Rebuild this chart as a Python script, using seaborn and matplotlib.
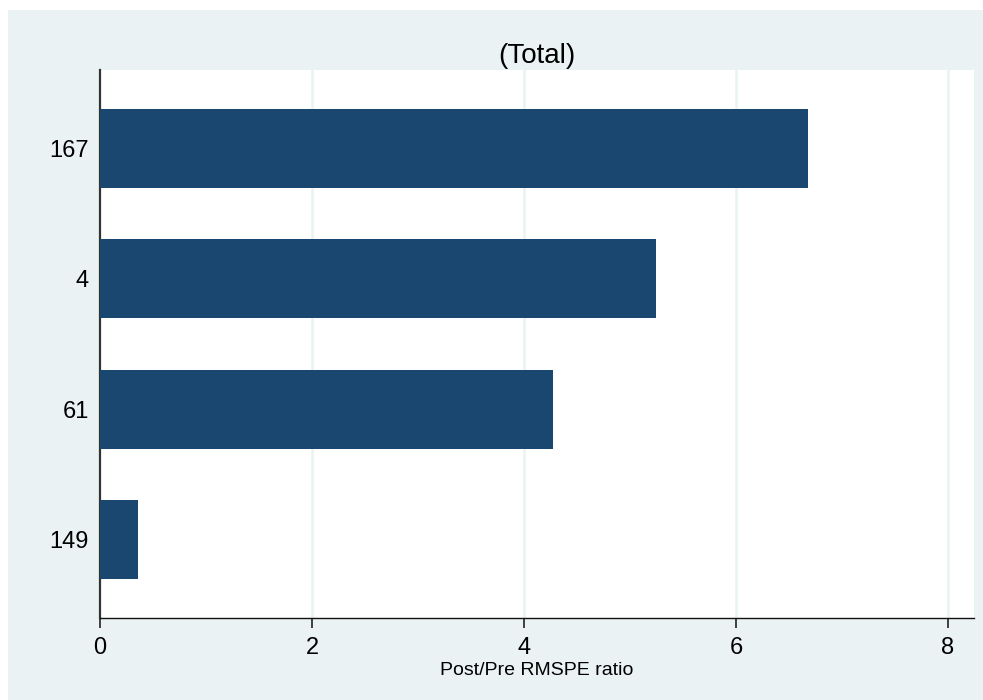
import matplotlib
matplotlib.use("Agg")
import matplotlib.pyplot as plt
import seaborn as sns
import pandas as pd

categories = ["167", "4", "61", "149"]
values = [6.68, 5.245, 4.27, 0.355]
xticks = [0, 2, 4, 6, 8]

df = pd.DataFrame({"unit": categories, "ratio": values})

sns.set_theme(style="ticks", rc={"text.color": "black", "xtick.color": "black",
                                 "ytick.color": "black", "axes.labelcolor": "black"})
plt.rcParams["font.family"] = ["Liberation Sans", "DejaVu Sans"]

fig = plt.figure(figsize=(9.83, 7.0), dpi=100, facecolor="white")
# light background panel
fig.patches.append(plt.Rectangle((8 / 983, 0), 1 - 8 / 983, 1 - 10 / 700,
                                 transform=fig.transFigure, facecolor="#EAF2F3",
                                 edgecolor="none", zorder=-10))
ax = fig.add_axes([100 / 983, 1 - 618 / 700, 874 / 983, 548 / 700])
ax.set_facecolor("white")

sns.barplot(data=df, x="ratio", y="unit", order=categories, orient="h",
            color="#1A476F", saturation=1, width=0.605, linewidth=0,
            ax=ax, zorder=3)

ax.set_xlim(0, 874 / 106)
ax.set_ylim(3.6, -0.6)
ax.set_xticks(xticks)
ax.set_xticklabels([str(t) for t in xticks], fontsize=17)
ax.tick_params(axis="x", which="major", bottom=True, direction="out",
               length=7, width=1.2, color="#222222", pad=7)
ax.tick_params(axis="y", left=False, length=0, pad=8, labelsize=17)
for t in xticks[1:]:
    ax.axvline(t, color="#EAF2F3", lw=1.8, zorder=1)

for s in ["top", "right"]:
    ax.spines[s].set_visible(False)
ax.spines["left"].set_color("#333333")
ax.spines["left"].set_linewidth(1.6)
ax.spines["bottom"].set_color("#111111")
ax.spines["bottom"].set_linewidth(1.0)

ax.set_ylabel("")
ax.set_xlabel("Post/Pre RMSPE ratio", fontsize=14, labelpad=2)
ax.set_title("(Total)", fontsize=20, pad=5)

fig.savefig("out.png", dpi=100, facecolor="white")
